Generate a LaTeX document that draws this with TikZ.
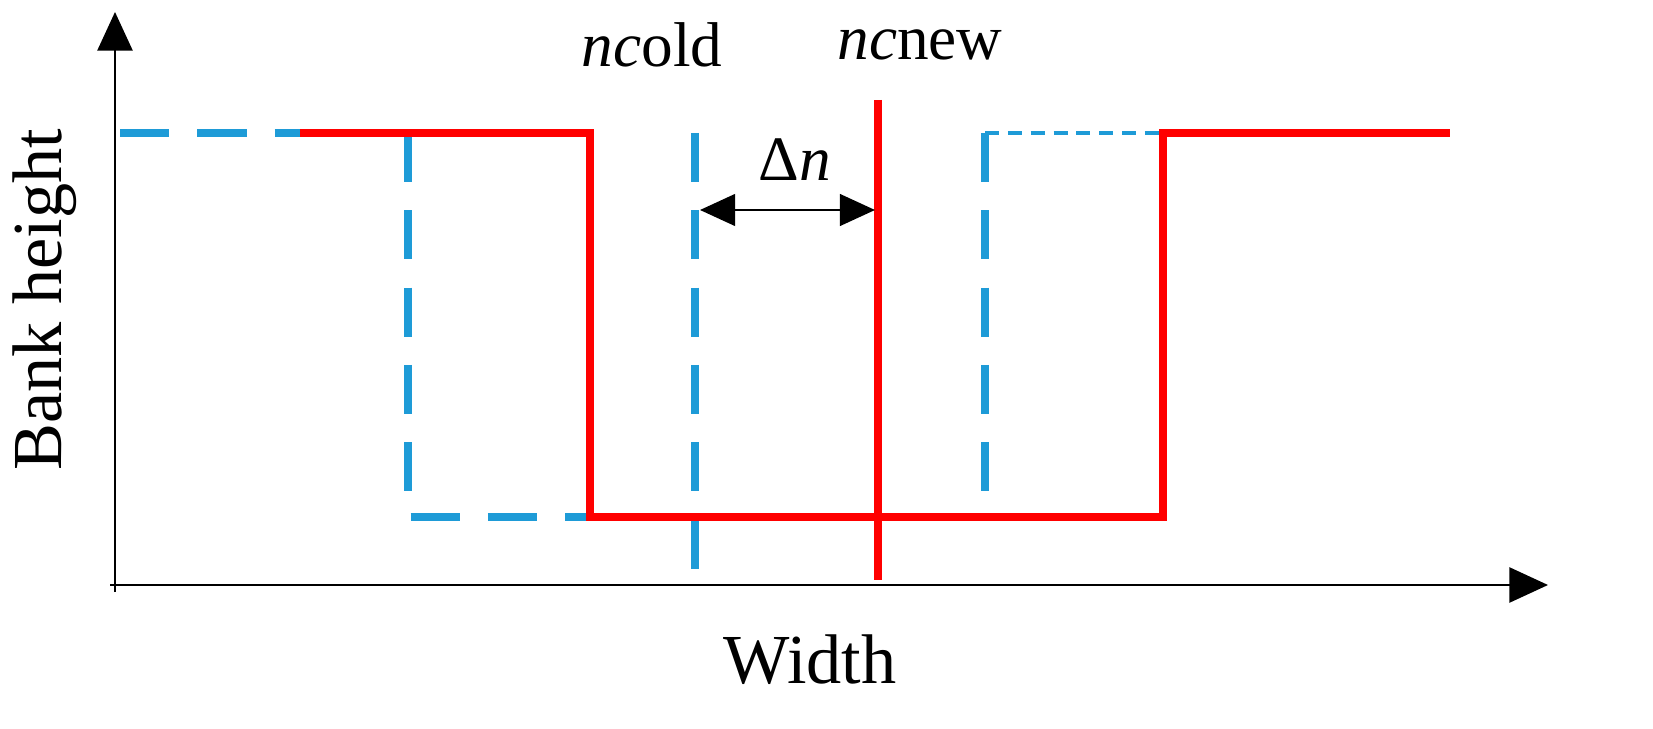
\documentclass[tikz,border=0pt]{standalone}
\usepackage{fontspec}
\setmainfont{Liberation Serif}
\usetikzlibrary{arrows.meta}
\begin{document}
\begin{tikzpicture}[x=0.02cm,y=-0.02cm,
 red/.style={draw={rgb,255:red,255;green,0;blue,0},line width=4.5pt},
 blu/.style={draw={rgb,255:red,30;green,155;blue,215},line width=4.5pt,dash pattern=on 28pt off 16pt},
 blut/.style={draw={rgb,255:red,30;green,155;blue,215},line width=2pt,dash pattern=on 8pt off 5pt},
 ax/.style={line width=1.2pt,-{Triangle[length=22pt,width=20pt]}},
 lab/.style={font=\fontsize{36}{40}\selectfont}]
\useasboundingbox (0,0) rectangle (1653,729);
\coordinate (o) at (115,585);
\coordinate (yt) at (115,12);
\coordinate (xt) at (1548,585);
\draw[ax] (115,592) -- (yt);
\draw[ax] (110,585) -- (xt);
\draw[blu] (120,133) -- (300,133);
\draw[blu] (408,133) -- (408,517) -- (590,517);
\draw[blu] (695,133) -- (695,585);
\draw[blu] (985,133) -- (985,517);
\draw[blut] (985,133) -- (1163,133);
\draw[red] (300,133) -- (590,133) -- (590,517) -- (1163,517) -- (1163,133) -- (1450,133);
\draw[red] (878,100) -- (878,580);
\coordinate (a1) at (700,210); \coordinate (a2) at (875,210);
\draw[line width=1.5pt,{Triangle[length=20pt,width=18pt]}-{Triangle[length=20pt,width=18pt]}] (a1) -- (a2);
\node[lab] (dn) at (795,160) {Δ\textit{n}};
\node[lab] (nco) at (652,45) {\textit{nc}old};
\node[lab] (ncn) at (920,45) {\textit{nc}new};
\node[lab,font=\fontsize{40}{44}\selectfont] (w) at (810,660) {Width};
\node[lab,font=\fontsize{40}{44}\selectfont,rotate=90] (bh) at (45,300) {Bank height};
\end{tikzpicture}
\end{document}
